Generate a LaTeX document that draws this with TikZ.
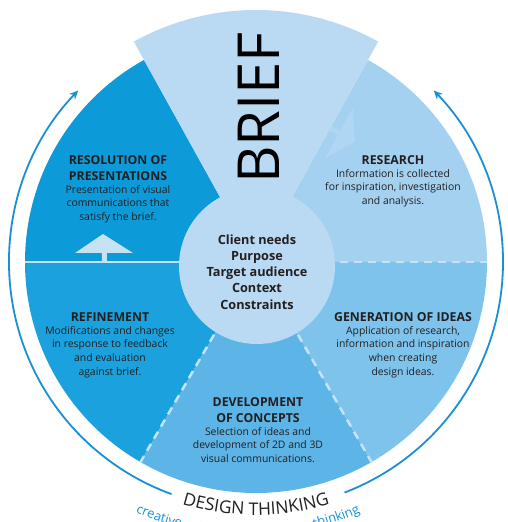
\documentclass[tikz,border=0pt]{standalone}
\usepackage{fontspec}
\setmainfont{Open Sans}
\usetikzlibrary{arrows.meta,decorations.text,calc}
\definecolor{briefblue}{HTML}{B9DAF2}
\definecolor{researchblue}{HTML}{A5D1F1}
\definecolor{ideasblue}{HTML}{7EC3EC}
\definecolor{conceptsblue}{HTML}{5DB4E6}
\definecolor{refineblue}{HTML}{1BA2DE}
\definecolor{resolveblue}{HTML}{0C9AD9}
\definecolor{lineblue}{HTML}{C6E3F6}
\definecolor{faintblue}{HTML}{AFD6F2}
\definecolor{ringblue}{HTML}{1A8FD3}
\definecolor{ink}{HTML}{231F20}
\tikzset{
  stagetitle/.style={font=\bfseries\fontsize{12.3}{16}\selectfont, text=ink, align=center, inner sep=0pt},
  stagetext/.style={font=\fontsize{10.4}{13.6}\selectfont, text=ink, align=center, inner sep=0pt},
  divider/.style={draw=lineblue, line width=2.5pt, dash pattern=on 8pt off 6pt},
  ring/.style={draw=ringblue, line width=1.8pt},
}
\begin{document}
\begin{tikzpicture}[x=1pt,y=1pt]
  \useasboundingbox (-256,-260) rectangle (251,262);
  % sectors
  \fill[researchblue] (0,0) -- (0:231) arc[start angle=0,end angle=61,radius=231] -- cycle;
  \fill[resolveblue] (0,0) -- (119:231) arc[start angle=119,end angle=180,radius=231] -- cycle;
  \fill[refineblue] (0,0) -- (180:231) arc[start angle=180,end angle=240,radius=231] -- cycle;
  \fill[conceptsblue] (0,0) -- (240:231) arc[start angle=240,end angle=300,radius=231] -- cycle;
  \fill[ideasblue] (0,0) -- (300:231) arc[start angle=300,end angle=360,radius=231] -- cycle;
  \fill[briefblue] (0,0) -- (61:252) arc[start angle=61,end angle=119,radius=252] -- cycle;
  % dividers
  \draw[divider] (0:70) -- (0:231);
  \draw[divider] (240:70) -- (240:231);
  \draw[divider] (300:70) -- (300:231);
  \draw[lineblue, line width=2.6pt] (180:70) -- (180:231);
  % arrows between stages
  \fill[lineblue] (-154,0) rectangle (-149,10) (-181,9) -- (-153,28) -- (-123,9) -- cycle;
  \fill[faintblue] (61:153) ++(61:-2.5) -- ++(-29:12) -- ++(61:5) -- ++(-29:-12) -- cycle;
  \fill[faintblue] (83,129) ++(61:29) -- ++(61:-58) -- ($(83,129)+(-29:18)$) -- cycle;
  \node[circle, fill=briefblue, minimum size=156pt, inner sep=0pt] (brief) at (1,-4) {};
  % outer ring
  \draw[ring, -{Stealth[length=9pt,width=8pt]}] (250:247) arc[start angle=250,end angle=136,radius=247];
  \draw[ring, -{Stealth[length=9pt,width=8pt]}] (-69:247) arc[start angle=-69,end angle=44,radius=247];
  % labels
  \node[font=\fontsize{58}{58}\selectfont, rotate=90] (brieflabel) at (3,154) {BRIEF};
  \node[font=\bfseries\fontsize{12.7}{16.2}\selectfont, text=ink, align=center] (needs) at (1,-10)
    {Client needs\\Purpose\\Target audience\\Context\\Constraints};
  \node[stagetitle] (research) at (137,102) {RESEARCH};
  \node[stagetext] (researchtext) at (137,74)
    {Information is collected\\for inspiration, investigation\\and analysis.};
  \node[stagetitle] (ideas) at (147,-55) {GENERATION OF IDEAS};
  \node[stagetext] (ideastext) at (147,-90)
    {Application of research,\\information and inspiration\\when creating\\design ideas.};
  \node[stagetitle] (concepts) at (2,-148) {DEVELOPMENT\\OF CONCEPTS};
  \node[stagetext] (conceptstext) at (2,-183)
    {Selection of ideas and\\development of 2D and 3D\\visual communications.};
  \node[stagetitle] (refine) at (-146,-55) {REFINEMENT};
  \node[stagetext] (refinetext) at (-146,-90)
    {Modifications and changes\\in response to feedback\\and evaluation\\against brief.};
  \node[stagetitle] (resolve) at (-138,94) {RESOLUTION OF\\PRESENTATIONS};
  \node[stagetext] (resolvetext) at (-138,58)
    {Presentation of visual\\communications that\\satisfy the brief.};
  % curved captions
  \path[decorate, decoration={text along path, text align=center,
    text={|\fontsize{17.5}{17.5}\selectfont\color{ink}|DESIGN THINKING}}]
    (200:253) arc[start angle=200,end angle=340,radius=253];
  \path[decorate, decoration={text along path, text align=center,
    text={|\fontsize{13}{13}\selectfont\color{ringblue}|creative, critical and reflective thinking}}]
    ($(-8,4)+(200:278)$) arc[start angle=200,end angle=340,radius=278];
\end{tikzpicture}
\end{document}
